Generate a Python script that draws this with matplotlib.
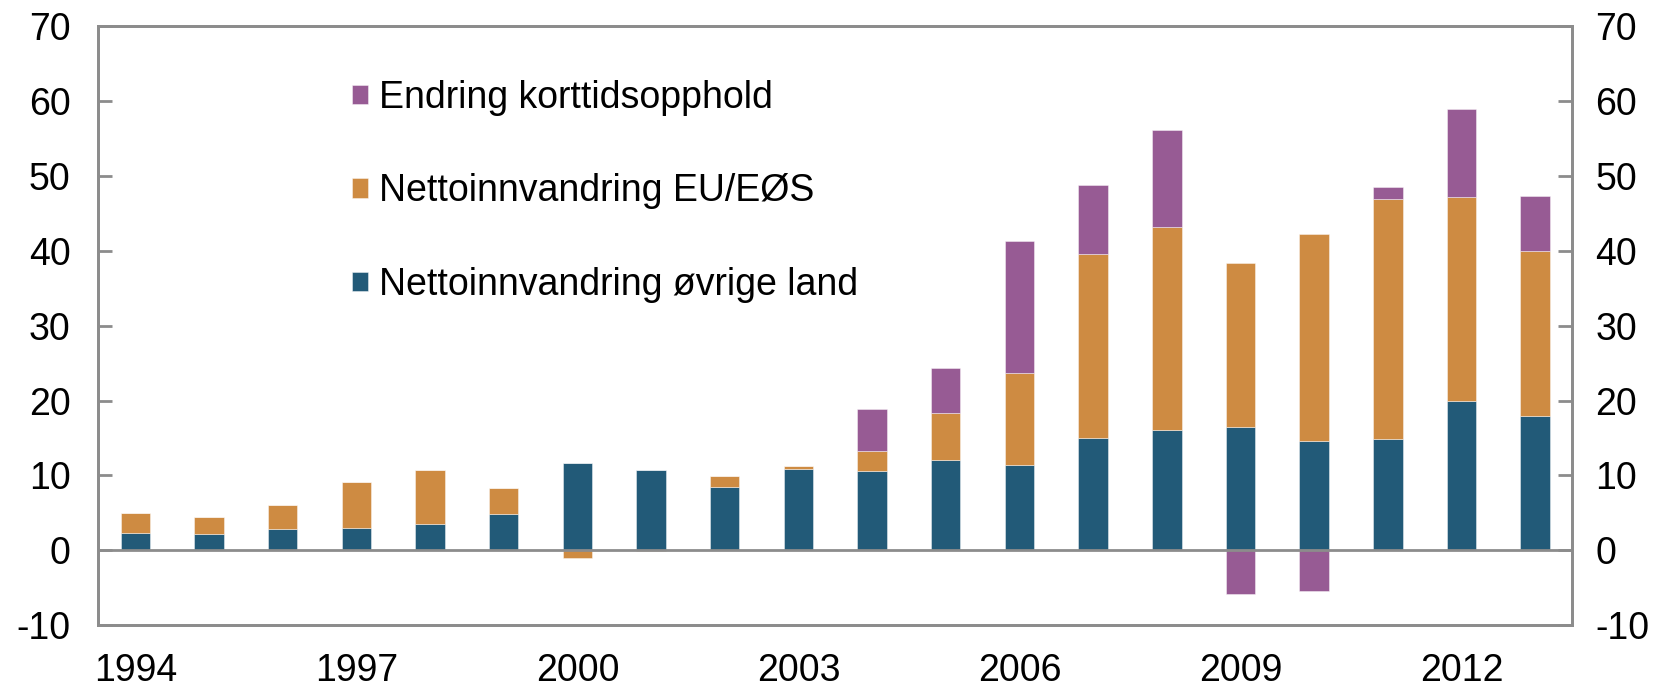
import numpy as np
import matplotlib.pyplot as plt

plt.rcParams['font.family'] = ['Liberation Sans', 'DejaVu Sans']
plt.rcParams['axes.unicode_minus'] = False

years = list(range(1994, 2014))
ovrige = [2.3, 2.1, 2.8, 3.0, 3.5, 4.9, 11.6, 10.7, 8.4, 10.9, 10.6, 12.0,
          11.4, 15.0, 16.1, 16.5, 14.6, 14.8, 19.9, 17.9]
eu_eos = [2.7, 2.4, 3.3, 6.1, 7.2, 3.4, -1.1, -0.1, 1.5, 0.3, 2.6, 6.4,
          12.3, 24.6, 27.1, 21.9, 27.6, 32.1, 27.3, 22.1]
korttid = [0, 0, 0, 0, 0, 0, 0, 0, 0, 0, 5.7, 6.0,
           17.6, 9.2, 13.0, -5.8, -5.4, 1.6, 11.8, 7.4]

labels = ["Nettoinnvandring øvrige land", "Nettoinnvandring EU/EØS",
          "Endring korttidsopphold"]
colors = ["#225A78", "#CE8B42", "#975B94"]

fig = plt.figure(figsize=(16.61, 6.86), dpi=100)
ax = fig.add_axes([0.0593, 0.0889, 0.8871, 0.8725])

x = np.arange(len(years))
pos_base = np.zeros(len(years))
neg_base = np.zeros(len(years))
handles = []
for vals, lab, col in zip([ovrige, eu_eos, korttid], labels, colors):
    v = np.array(vals, dtype=float)
    bottom = np.where(v >= 0, pos_base, neg_base)
    b = ax.bar(x, v, 0.4, bottom=bottom, color=col, label=lab,
               edgecolor=(1, 1, 1, 0.5), linewidth=0.6, zorder=2)
    handles.append(b)
    pos_base += np.where(v > 0, v, 0)
    neg_base += np.where(v < 0, v, 0)

gray = "#8c8c8c"
fs = 27
ax.axhline(0, color=gray, linewidth=2, zorder=3)
ax.set_xlim(-0.5, len(years) - 0.5)
ax.set_ylim(-10, 70)
ax.set_yticks(range(-10, 71, 10))
ax.set_xticks(x[::3])
ax.set_xticklabels([str(y) for y in years[::3]])
for s in ax.spines.values():
    s.set_color(gray)
    s.set_linewidth(2)
ax.tick_params(axis='y', direction='in', length=10, width=2, color=gray,
               labelsize=fs, pad=20)
ax.tick_params(axis='x', length=0, labelsize=fs, pad=20)

ax2 = ax.twinx()
ax2.set_ylim(-10, 70)
ax2.set_yticks(range(-10, 71, 10))
for s in ax2.spines.values():
    s.set_color(gray)
    s.set_linewidth(2)
ax2.tick_params(axis='y', direction='in', length=10, width=2, color=gray,
                labelsize=fs, pad=17)

leg = ax.legend(handles[::-1], labels[::-1], loc='upper left',
                bbox_to_anchor=(0.149, 0.967), frameon=False, fontsize=fs,
                handlelength=0.42, handleheight=0.42, handletextpad=0.3,
                labelspacing=1.53)

fig.savefig("out.png", dpi=100)
